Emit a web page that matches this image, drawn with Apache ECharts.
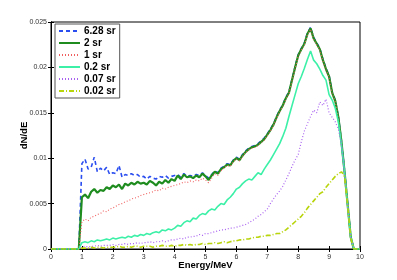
<!DOCTYPE html>
<html>
<head>
<meta charset="utf-8">
<script src="https://cdn.jsdelivr.net/npm/echarts@6/dist/echarts.min.js"></script>
<style>html,body{margin:0;padding:0;background:#fff}#c{width:397px;height:280px}</style>
</head>
<body>
<div id="c"></div>
<script>
var energy = [0.0,0.1,0.2,0.3,0.4,0.5,0.6,0.7,0.8,0.9,
1.0,1.1,1.2,1.3,1.4,1.5,1.6,1.7,1.8,1.9,
2.0,2.1,2.2,2.3,2.4,2.5,2.6,2.7,2.8,2.9,
3.0,3.1,3.2,3.3,3.4,3.5,3.6,3.7,3.8,3.9,
4.0,4.1,4.2,4.3,4.4,4.5,4.6,4.7,4.8,4.9,
5.0,5.1,5.2,5.3,5.4,5.5,5.6,5.7,5.8,5.9,
6.0,6.1,6.2,6.3,6.4,6.5,6.6,6.7,6.8,6.9,
7.0,7.1,7.2,7.3,7.4,7.5,7.6,7.7,7.8,7.9,
8.0,8.1,8.2,8.3,8.4,8.5,8.6,8.7,8.8,8.9,
9.0,9.1,9.2,9.3,9.4,9.5,9.6,9.7,9.8,9.9,10.0];

var sr628 = [0,0,0,0,0,0,0,0,0,0,
0.0094,0.0099,0.0088,0.0090,0.0101,0.0085,0.0089,0.0086,0.0090,0.0082,
0.0084,0.0083,0.0092,0.0079,0.0082,0.0081,0.0083,0.0081,0.0082,0.0079,
0.0080,0.0077,0.0080,0.0078,0.0077,0.0080,0.0079,0.0081,0.0078,0.0080,
0.0081,0.0082,0.0079,0.0083,0.0080,0.0081,0.0080,0.0082,0.0081,0.0084,
0.0081,0.0078,0.0082,0.0086,0.0084,0.0089,0.0091,0.0094,0.0093,0.0098,
0.0101,0.0099,0.0104,0.0108,0.0111,0.0113,0.0114,0.0116,0.0119,0.0122,
0.0127,0.0132,0.0138,0.0146,0.0153,0.0159,0.0167,0.0173,0.0187,0.0201,
0.0214,0.0221,0.0227,0.0238,0.0244,0.0233,0.0227,0.0221,0.0209,0.0199,
0.0191,0.0173,0.0164,0.0146,0.0119,0.0086,0.0050,0.0014,0,0,0];

var sr2 = [0,0,0,0,0,0,0,0,0,0,
0.0057,0.0060,0.0056,0.0063,0.0066,0.0062,0.0065,0.0064,0.0068,0.0066,
0.0070,0.0068,0.0071,0.0066,0.0072,0.0070,0.0073,0.0071,0.0074,0.0072,
0.0073,0.0071,0.0075,0.0073,0.0070,0.0074,0.0072,0.0076,0.0073,0.0077,
0.0075,0.0081,0.0077,0.0082,0.0079,0.0080,0.0078,0.0081,0.0079,0.0083,
0.0080,0.0076,0.0081,0.0085,0.0083,0.0088,0.0090,0.0093,0.0092,0.0097,
0.0100,0.0098,0.0103,0.0107,0.0110,0.0112,0.0113,0.0115,0.0118,0.0121,
0.0126,0.0131,0.0137,0.0145,0.0152,0.0158,0.0166,0.0172,0.0186,0.0200,
0.0213,0.0220,0.0226,0.0237,0.0243,0.0232,0.0226,0.0220,0.0208,0.0198,
0.0190,0.0172,0.0163,0.0145,0.0118,0.0085,0.0049,0.0013,0,0,0];

var sr1 = [0,0,0,0,0,0,0,0,0,0,
0.0030,0.0033,0.0031,0.0035,0.0036,0.0038,0.0039,0.0042,0.0041,0.0044,
0.0045,0.0047,0.0049,0.0050,0.0052,0.0053,0.0055,0.0056,0.0057,0.0059,
0.0060,0.0061,0.0062,0.0063,0.0065,0.0064,0.0067,0.0066,0.0068,0.0069,
0.0070,0.0071,0.0072,0.0074,0.0073,0.0075,0.0074,0.0076,0.0075,0.0078,
0.0076,0.0073,0.0078,0.0083,0.0081,0.0086,0.0089,0.0092,0.0091,0.0096,
0.0099,0.0097,0.0102,0.0106,0.0109,0.0111,0.0112,0.0114,0.0117,0.0120,
0.0125,0.0130,0.0136,0.0144,0.0151,0.0157,0.0165,0.0171,0.0185,0.0199,
0.0212,0.0219,0.0225,0.0236,0.0242,0.0231,0.0225,0.0219,0.0207,0.0197,
0.0189,0.0171,0.0162,0.0144,0.0117,0.0084,0.0048,0.0012,0,0,0];

var sr02 = [0,0,0,0,0,0,0,0,0,0,
0.0007,0.0008,0.0007,0.0009,0.0008,0.0010,0.0009,0.0010,0.0011,0.0010,
0.0012,0.0011,0.0012,0.0013,0.0012,0.0014,0.0013,0.0015,0.0014,0.0016,
0.0015,0.0017,0.0016,0.0018,0.0019,0.0018,0.0021,0.0020,0.0022,0.0021,
0.0023,0.0026,0.0025,0.0029,0.0031,0.0030,0.0034,0.0033,0.0037,0.0039,
0.0038,0.0042,0.0044,0.0043,0.0047,0.0050,0.0049,0.0054,0.0057,0.0061,
0.0066,0.0068,0.0072,0.0075,0.0077,0.0076,0.0080,0.0084,0.0082,0.0088,
0.0093,0.0098,0.0104,0.0110,0.0116,0.0124,0.0133,0.0146,0.0158,0.0170,
0.0182,0.0190,0.0199,0.0209,0.0218,0.0208,0.0204,0.0198,0.0191,0.0186,
0.0170,0.0164,0.0155,0.0140,0.0115,0.0085,0.0048,0.0013,0,0,0];

var sr007 = [0,0,0,0,0,0,0,0,0,0,
0.0002,0.0003,0.0002,0.0003,0.0003,0.0004,0.0003,0.0004,0.0004,0.0004,
0.0005,0.0004,0.0005,0.0005,0.0006,0.0005,0.0006,0.0006,0.0007,0.0006,
0.0007,0.0007,0.0008,0.0007,0.0008,0.0008,0.0009,0.0008,0.0009,0.0010,
0.0010,0.0011,0.0012,0.0011,0.0013,0.0013,0.0014,0.0014,0.0016,0.0015,
0.0017,0.0017,0.0018,0.0019,0.0020,0.0021,0.0021,0.0022,0.0023,0.0023,
0.0024,0.0025,0.0026,0.0027,0.0029,0.0031,0.0033,0.0036,0.0038,0.0041,
0.0044,0.0050,0.0055,0.0060,0.0064,0.0069,0.0076,0.0083,0.0091,0.0098,
0.0104,0.0118,0.0130,0.0138,0.0146,0.0153,0.0150,0.0162,0.0158,0.0165,
0.0150,0.0145,0.0140,0.0132,0.0115,0.0084,0.0048,0.0012,0,0,0];

var sr002 = [0,0,0,0,0,0,0,0,0,0,
0.0001,0.0001,0.0001,0.0002,0.0001,0.0002,0.0002,0.0001,0.0002,0.0002,
0.0002,0.0002,0.0003,0.0002,0.0002,0.0003,0.0002,0.0003,0.0003,0.0002,
0.0003,0.0003,0.0003,0.0002,0.0003,0.0003,0.0004,0.0003,0.0003,0.0004,
0.0003,0.0004,0.0004,0.0005,0.0004,0.0005,0.0004,0.0005,0.0005,0.0006,
0.0005,0.0006,0.0006,0.0007,0.0006,0.0007,0.0008,0.0007,0.0008,0.0009,
0.0009,0.0010,0.0010,0.0011,0.0011,0.0012,0.0013,0.0013,0.0014,0.0014,
0.0015,0.0015,0.0016,0.0017,0.0017,0.0019,0.0021,0.0024,0.0027,0.0030,
0.0033,0.0036,0.0040,0.0045,0.0049,0.0053,0.0057,0.0061,0.0063,0.0068,
0.0072,0.0076,0.0080,0.0083,0.0085,0.0080,0.0048,0.0012,0,0,0];

var seriesNames = ['6.28 sr','2 sr','1 sr','0.2 sr','0.07 sr','0.02 sr'];
var xTicks = [0,1,2,3,4,5,6,7,8,9,10];
var yTicks = [0,0.005,0.01,0.015,0.02,0.025];

function pairs(vals){ return energy.map(function(e,i){ return [e, vals[i]]; }); }

var styles = [
  {color:'#2a4df0', width:1.6, type:[4,3]},
  {color:'#1e8c1e', width:2.2, type:'solid'},
  {color:'#f06060', width:1.1, type:[1,2]},
  {color:'#3df0a8', width:1.6, type:'solid'},
  {color:'#a860f0', width:1.2, type:[1,2]},
  {color:'#b8d40a', width:1.6, type:[5,2,1,2]}
];
var allVals = [sr628, sr2, sr1, sr02, sr007, sr002];

var chart = echarts.init(document.getElementById('c'), null, {renderer:'canvas'});
var tickLabel = {fontSize:7, color:'#333', fontFamily:'Liberation Sans, Arial, sans-serif'};
chart.setOption({
  animation:false,
  backgroundColor:'#fff',
  grid:{left:51, right:37, top:22, bottom:31, show:true, borderColor:'#000', borderWidth:1},
  legend:{
    orient:'vertical', left:55, top:24,
    data:seriesNames,
    itemWidth:21, itemHeight:9, itemGap:2,
    padding:[2,4,2,3],
    backgroundColor:'#fff', borderColor:'#555', borderWidth:1,
    itemStyle:{opacity:0},
    textStyle:{fontSize:10, fontWeight:'bold', color:'#000', fontFamily:'Liberation Sans, Arial, sans-serif', padding:[0,0,0,-1]}
  },
  xAxis:[{
    type:'value', min:xTicks[0], max:xTicks[xTicks.length-1], interval:1,
    name:'Energy/MeV', nameLocation:'middle', nameGap:11, nameMoveOverlap:false,
    nameTextStyle:{fontSize:9.5, fontWeight:'bold', color:'#000', fontFamily:'Liberation Sans, Arial, sans-serif'},
    axisLine:{show:true, lineStyle:{color:'#000', width:1}},
    axisTick:{show:true, inside:true, length:3, lineStyle:{color:'#000'}},
    axisLabel:Object.assign({margin:5}, tickLabel),
    splitLine:{show:false}
  },{
    type:'value', position:'top', min:0, max:10, interval:1,
    axisLine:{show:true, lineStyle:{color:'#000'}},
    axisTick:{show:true, inside:true, length:3, lineStyle:{color:'#000'}},
    axisLabel:{show:false}, splitLine:{show:false}
  }],
  yAxis:[{
    type:'value', min:yTicks[0], max:yTicks[yTicks.length-1], interval:0.005,
    name:'dN/dE', nameLocation:'middle', nameGap:22, nameMoveOverlap:false,
    nameTextStyle:{fontSize:9.5, fontWeight:'bold', color:'#000', fontFamily:'Liberation Sans, Arial, sans-serif'},
    axisLine:{show:true, lineStyle:{color:'#000', width:1}},
    axisTick:{show:true, inside:true, length:3, lineStyle:{color:'#000'}},
    axisLabel:Object.assign({margin:4}, tickLabel),
    splitLine:{show:false}
  },{
    type:'value', position:'right', min:0, max:0.025, interval:0.005,
    axisLine:{show:true, lineStyle:{color:'#000'}},
    axisTick:{show:true, inside:true, length:3, lineStyle:{color:'#000'}},
    axisLabel:{show:false}, splitLine:{show:false}
  }],
  series: seriesNames.map(function(n,i){
    return {
      name:n, type:'line', xAxisIndex:0, yAxisIndex:0,
      data:pairs(allVals[i]), symbol:'none', showSymbol:false,
      lineStyle:{color:styles[i].color, width:styles[i].width, type:styles[i].type},
      itemStyle:{color:styles[i].color},
      z:2+i
    };
  })
});
</script>
</body>
</html>
